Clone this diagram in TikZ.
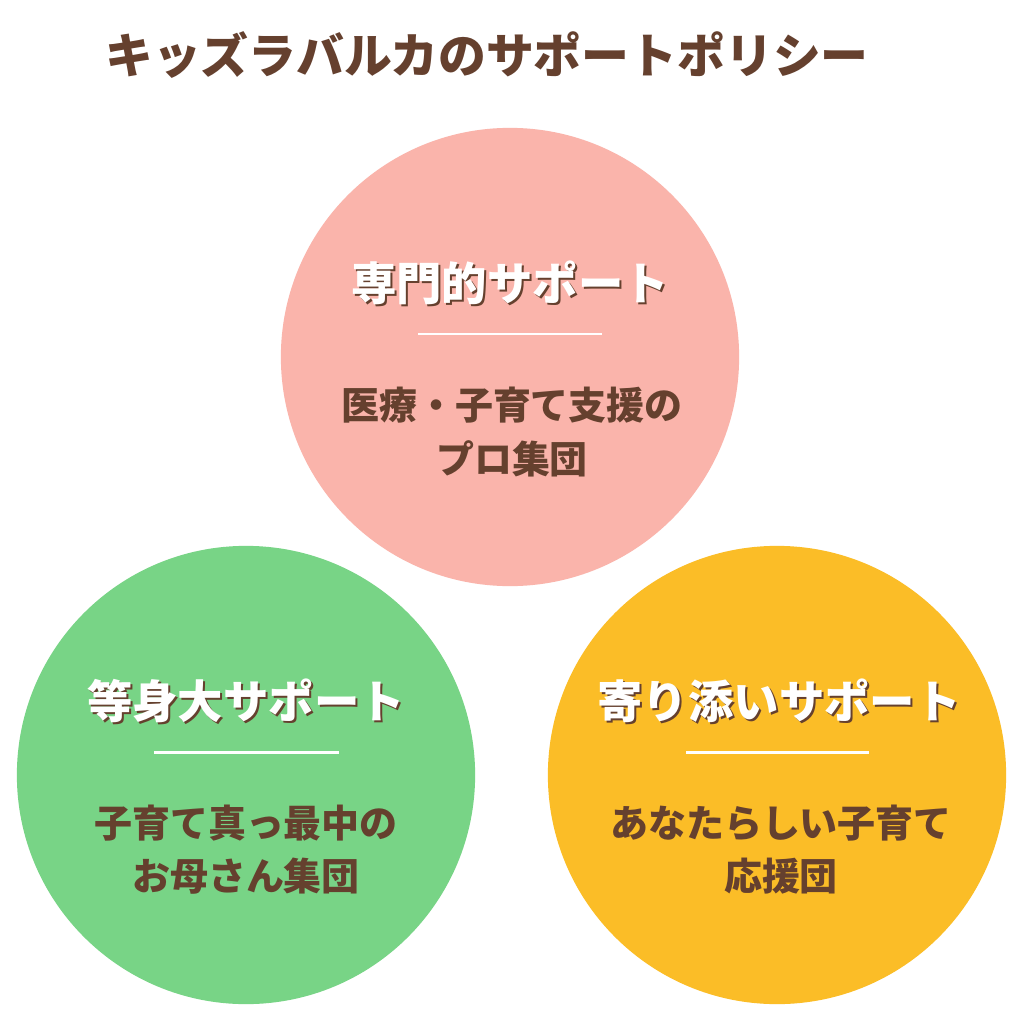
\documentclass[tikz,border=0pt]{standalone}
\usepackage{fontspec}
\usepackage{tikz}
\newfontfamily\cjk{Noto Sans CJK JP}
\definecolor{kbrown}{HTML}{65402E}
\definecolor{kpink}{HTML}{FAB4AB}
\definecolor{kgreen}{HTML}{78D486}
\definecolor{kyellow}{HTML}{FBBD27}

\begin{document}
\begin{tikzpicture}[x=0.01cm,y=-0.01cm,
  ball/.style={circle,minimum size=4.58cm,inner sep=0pt},
  headtext/.style={text=white,font=\cjk\bfseries\fontsize{12.9}{14}\selectfont},
  headshadow/.style={text=kbrown,font=\cjk\bfseries\fontsize{12.9}{14}\selectfont},
  bodytext/.style={text=kbrown,align=center,font=\cjk\bfseries\fontsize{10.8}{15.1}\selectfont},
  rule/.style={white,line width=0.85pt}]
\fill[white] (0,0) rectangle (1024,1024);
\useasboundingbox (0,0) rectangle (1024,1024);

% title
\node[text=kbrown,font=\cjk\bfseries\fontsize{13.6}{15}\selectfont] (title) at (487,55) {キッズラバルカのサポートポリシー};

% top circle
\node[ball,fill=kpink] (pro) at (510,357) {};
\node[headshadow] (proS) at (512,285) {専門的サポート};
\node[headtext] (proH) at (510,283) {専門的サポート};
\draw[rule] (418,334) -- (602,334);
\node[bodytext] (proB) at (512,432) {医療・子育て支援の\\プロ集団};

% left circle
\node[ball,fill=kgreen] (peer) at (246,775) {};
\node[headshadow] (peerS) at (248,703) {等身大サポート};
\node[headtext] (peerH) at (246,701) {等身大サポート};
\draw[rule] (154,752) -- (339,752);
\node[bodytext] (peerB) at (246,850) {子育て真っ最中の\\お母さん集団};

% right circle
\node[ball,fill=kyellow] (close) at (777,775) {};
\node[headshadow] (closeS) at (781,703) {寄り添いサポート};
\node[headtext] (closeH) at (779,701) {寄り添いサポート};
\draw[rule] (686,752) -- (869,752);
\node[bodytext] (closeB) at (781,850) {あなたらしい子育て\\応援団};
\end{tikzpicture}
\end{document}
